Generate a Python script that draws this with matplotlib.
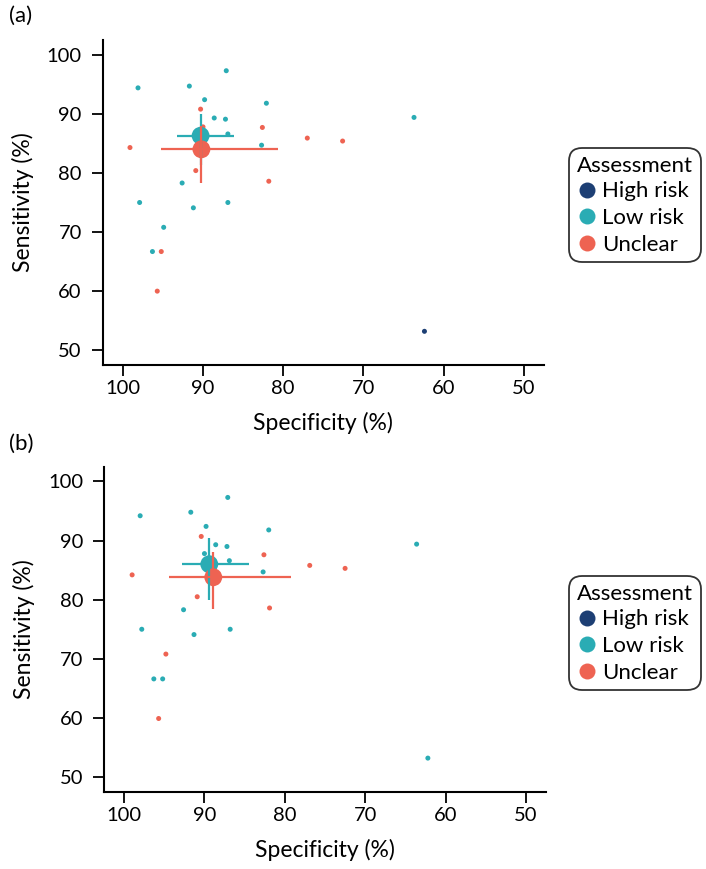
import matplotlib
matplotlib.use("Agg")
import matplotlib.pyplot as plt
from matplotlib.lines import Line2D

plt.rcParams['font.family'] = ['Lato', 'DejaVu Sans']

colors = {"High risk": "#1d3f74", "Low risk": "#2aacb4", "Unclear": "#ee6352"}
categories = ["High risk", "Low risk", "Unclear"]

# ---- Panel (a) study points ----
a_spec = [98.1, 91.7, 87.1, 89.8, 82.1, 88.6, 87.2, 86.9, 82.7, 92.6, 97.9, 91.2, 86.9, 94.9, 96.3, 63.7,
          90.3, 90.0, 82.6, 99.1, 90.9, 81.8, 95.2, 95.7, 77.0, 72.6,
          62.4]
a_sens = [94.4, 94.7, 97.3, 92.4, 91.8, 89.3, 89.1, 86.6, 84.7, 78.3, 75.0, 74.1, 75.0, 70.8, 66.7, 89.4,
          90.8, 87.8, 87.7, 84.3, 80.4, 78.6, 66.7, 60.0, 85.9, 85.4,
          53.2]
a_cat = ["Low risk"] * 16 + ["Unclear"] * 10 + ["High risk"]

# summary estimates (a)
a_sum_cat = ["Low risk", "Unclear"]
a_sum_spec = [90.3, 90.2]
a_sum_sens = [86.3, 84.0]
a_spec_lo = [86.1, 80.6]
a_spec_hi = [93.3, 95.2]
a_sens_lo = [81.3, 78.3]
a_sens_hi = [90.0, 88.0]

# ---- Panel (b) study points ----
b_spec = [98.0, 91.7, 87.1, 89.8, 82.0, 88.6, 87.2, 86.9, 82.7, 92.6, 97.8, 91.3, 86.8, 96.3, 95.2, 63.6, 62.2, 90.0,
          90.4, 82.6, 99.0, 90.9, 81.9, 94.8, 95.7, 76.9, 72.5]
b_sens = [94.2, 94.8, 97.3, 92.4, 91.8, 89.3, 89.0, 86.6, 84.7, 78.3, 75.0, 74.1, 75.0, 66.6, 66.6, 89.4, 53.2, 87.8,
          90.7, 87.6, 84.2, 80.5, 78.6, 70.8, 59.9, 85.8, 85.3]
b_cat = ["Low risk"] * 18 + ["Unclear"] * 9

b_sum_cat = ["Low risk", "Unclear"]
b_sum_spec = [89.4, 88.9]
b_sum_sens = [86.0, 83.8]
b_spec_lo = [84.4, 79.2]
b_spec_hi = [92.8, 94.4]
b_sens_lo = [79.9, 78.5]
b_sens_hi = [90.4, 88.1]

xticks = [100, 90, 80, 70, 60, 50]
yticks = [50, 60, 70, 80, 90, 100]

fig = plt.figure(figsize=(7.06, 8.69), dpi=100)

W, H = 706.0, 869.0
def rect(l, t, r, b):
    return [l / W, 1 - b / H, (r - l) / W, (b - t) / H]

ax_a = fig.add_axes(rect(102.7, 40, 544, 365))
ax_b = fig.add_axes(rect(104, 466.7, 546, 791.8))

def draw(ax, spec, sens, cat, scat, sspec, ssens, slo, shi, selo, sehi, leg_top):
    for c in categories:
        xs = [s for s, k in zip(spec, cat) if k == c]
        ys = [s for s, k in zip(sens, cat) if k == c]
        if xs:
            ax.scatter(xs, ys, s=13, color=colors[c], edgecolor='none', zorder=3)
    for i, c in enumerate(scat):
        ax.scatter([sspec[i]], [ssens[i]], s=165, color=colors[c], edgecolor='none', zorder=4)
    for i, c in enumerate(scat):
        ax.plot([slo[i], shi[i]], [ssens[i], ssens[i]], color=colors[c], lw=1.6, zorder=5, solid_capstyle='butt')
        ax.plot([sspec[i], sspec[i]], [selo[i], sehi[i]], color=colors[c], lw=1.6, zorder=5, solid_capstyle='butt')
    ax.set_xlim(102.5, 47.5)
    ax.set_ylim(47.5, 102.5)
    ax.set_xticks(xticks)
    ax.set_yticks(yticks)
    ax.spines['top'].set_visible(False)
    ax.spines['right'].set_visible(False)
    for s in ['left', 'bottom']:
        ax.spines[s].set_linewidth(1.5)
    ax.tick_params(axis='both', labelsize=14.5, length=8, width=1.3, color='black')
    ax.tick_params(axis='x', pad=3)
    ax.tick_params(axis='y', pad=7)
    ax.set_xlabel("Specificity (%)", fontsize=16.5)
    ax.set_ylabel("Sensitivity (%)", fontsize=16.5)
    ax.xaxis.set_label_coords(0.5, -0.145)
    ax.yaxis.set_label_coords(-0.156, 0.5)
    handles = [Line2D([0], [0], marker='o', linestyle='none', markersize=11.5,
                      markerfacecolor=colors[c], markeredgecolor='none', label=c) for c in categories]
    leg = fig.legend(handles=handles, title="Assessment", loc='upper left',
                     bbox_to_anchor=(569 / W, 1 - leg_top / H), fontsize=16, title_fontsize=16,
                     frameon=True, fancybox=True, edgecolor='black', handletextpad=0.25,
                     handlelength=0.9, borderpad=0.35, labelspacing=0.3, borderaxespad=0)
    leg._legend_box.align = "left"
    leg._legend_box.sep = 4
    leg.get_frame().set_linewidth(1.3)
    leg.get_frame().set_boxstyle("round,pad=0.0,rounding_size=0.6")

draw(ax_a, a_spec, a_sens, a_cat, a_sum_cat, a_sum_spec, a_sum_sens, a_spec_lo, a_spec_hi, a_sens_lo, a_sens_hi, 148)
draw(ax_b, b_spec, b_sens, b_cat, b_sum_cat, b_sum_spec, b_sum_sens, b_spec_lo, b_spec_hi, b_sens_lo, b_sens_hi, 576)

fig.text(9 / W, 1 - 6 / H, "(a)", fontsize=16, va='top', ha='left')
fig.text(9 / W, 1 - 434 / H, "(b)", fontsize=16, va='top', ha='left')

fig.savefig("out.png", dpi=100)
